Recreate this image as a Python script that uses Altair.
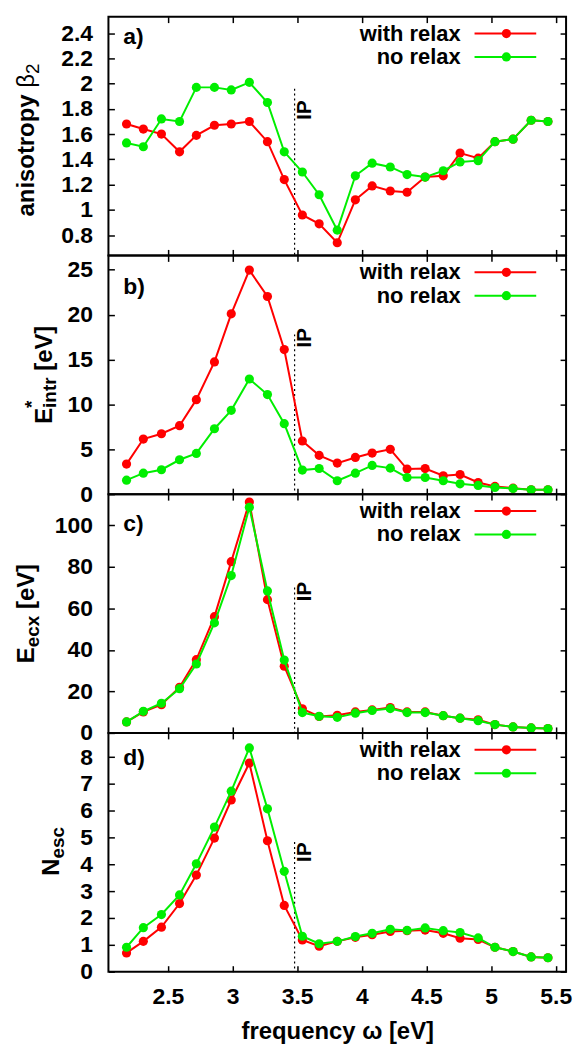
import altair as alt
import pandas as pd

# ---------------- data ----------------
freq = [2.18, 2.31, 2.45, 2.59, 2.72, 2.86, 2.99, 3.13, 3.27, 3.40, 3.54, 3.67, 3.81,
        3.95, 4.08, 4.22, 4.35, 4.49, 4.63, 4.76, 4.90, 5.03, 5.17, 5.31, 5.44]

beta_relax = [1.68, 1.64, 1.60, 1.46, 1.59, 1.67, 1.68, 1.70, 1.54, 1.24, 0.96, 0.89, 0.74,
              1.08, 1.19, 1.15, 1.14, 1.26, 1.27, 1.45, 1.41, 1.54, 1.56, 1.71, 1.70]
beta_norelax = [1.53, 1.50, 1.72, 1.70, 1.97, 1.97, 1.95, 2.01, 1.85, 1.46, 1.30, 1.12, 0.84,
                1.27, 1.37, 1.34, 1.28, 1.26, 1.31, 1.38, 1.39, 1.54, 1.56, 1.71, 1.70]

eint_relax = [3.35, 6.14, 6.73, 7.63, 10.53, 14.73, 20.09, 24.96, 22.02, 16.11, 5.92, 4.32, 3.46,
              4.09, 4.58, 4.99, 2.79, 2.85, 2.05, 2.19, 1.30, 0.86, 0.67, 0.48, 0.48]
eint_norelax = [1.56, 2.34, 2.72, 3.83, 4.54, 7.29, 9.34, 12.83, 11.09, 7.85, 2.68, 2.86, 1.49,
                2.34, 3.20, 2.90, 1.86, 1.86, 1.49, 1.15, 0.97, 0.74, 0.63, 0.48, 0.48]

eecx_relax = [5.3, 10.1, 13.6, 22.0, 35.3, 56.0, 82.5, 111.2, 64.2, 32.1, 11.6, 7.9, 8.5,
              10.1, 11.1, 12.2, 10.1, 10.1, 8.3, 7.1, 6.3, 4.0, 2.9, 2.4, 2.1]
eecx_norelax = [5.3, 10.4, 14.3, 21.3, 33.2, 53.0, 75.8, 108.7, 68.4, 35.1, 9.8, 8.0, 7.5,
                9.5, 10.8, 11.7, 9.8, 9.8, 8.3, 7.1, 5.9, 4.0, 2.9, 2.4, 2.1]

nesc_relax = [0.70, 1.13, 1.66, 2.54, 3.60, 4.98, 6.40, 7.78, 4.88, 2.47, 1.18, 0.95, 1.13,
              1.28, 1.38, 1.50, 1.53, 1.55, 1.43, 1.25, 1.20, 0.91, 0.75, 0.55, 0.52]
nesc_norelax = [0.91, 1.64, 2.13, 2.86, 4.02, 5.39, 6.73, 8.34, 6.07, 3.74, 1.32, 1.04, 1.13,
                1.31, 1.43, 1.58, 1.54, 1.63, 1.53, 1.46, 1.26, 0.91, 0.75, 0.55, 0.52]

x_ticks = [2.5, 3.0, 3.5, 4.0, 4.5, 5.0, 5.5]
beta_ticks = [0.8, 1.0, 1.2, 1.4, 1.6, 1.8, 2.0, 2.2, 2.4]
eint_ticks = [0, 5, 10, 15, 20, 25]
eecx_ticks = [0, 20, 40, 60, 80, 100]
nesc_ticks = [0, 1, 2, 3, 4, 5, 6, 7, 8]

ip_freq = 3.48
ip_tops = [1.96, 17.8, 70.0, 4.83]

series_names = ["with relax", "no relax"]
panel_labels = ["a)", "b)", "c)", "d)"]

# ---------------- style ----------------
W, H = 460, 240
XDOM = [2.04, 5.58]
FONT = "Liberation Sans"
RED = "#ff0000"
GREEN = "#00ee00"
TICK = 6
FS = 23
LFS = 22
TFS = 24

BOLD_W = {'a': .556, 'b': .611, 'c': .556, 'd': .611, 'e': .556, 'f': .333, 'g': .611,
          'h': .611, 'i': .278, 'j': .278, 'k': .556, 'l': .278, 'm': .889, 'n': .611,
          'o': .611, 'p': .611, 'q': .611, 'r': .389, 's': .556, 't': .333, 'u': .611,
          'v': .556, 'w': .778, 'x': .556, 'y': .556, 'z': .5, ' ': .278, 'E': .667,
          'N': .722, 'V': .667, '[': .333, ']': .333, '*': .389, '2': .556}
NORM_W = {'β': .573, '2': .556, ' ': .278}


def text_width(t, size, weight):
    table = BOLD_W if weight == 'bold' else NORM_W
    return sum(table.get(ch, .556) for ch in t) * size


def one_row():
    return alt.Data(values=[{"k": 1}])


def y_title(pieces, base_x, center_y):
    total = sum(text_width(t, s, w) for t, s, w, sh, adv in pieces if adv)
    y = center_y + total / 2.0
    layers = []
    for t, s, w, sh, adv in pieces:
        stripped = t.lstrip(' ')
        lead = text_width(t[:len(t) - len(stripped)], s, w)
        y -= lead
        layers.append(
            alt.Chart(one_row()).mark_text(
                text=stripped, angle=270, align='left', baseline='alphabetic',
                fontSize=s, fontWeight=w, font=FONT, color='black'
            ).encode(x=alt.value(base_x + sh), y=alt.value(y))
        )
        if adv:
            y -= text_width(stripped, s, w)
        else:
            y += lead
    return layers


def ax(orient, values, labels, title=None, label_padding=0, title_padding=0):
    kw = dict(orient=orient, values=values, offset=-TICK, tickSize=TICK, domain=False,
              grid=False, labels=labels, format='~f', title=title)
    if labels:
        kw['labelPadding'] = label_padding
    if title:
        kw['titlePadding'] = title_padding
    return alt.Axis(**kw)


def panel(relax, norelax, ydom, yticks, label, label_y, ip_top, ip_y, title_pieces,
          title_x, title_cy, last):
    df = pd.DataFrame({'f': freq, 'relax': relax, 'norelax': norelax})
    xs = alt.Scale(domain=XDOM, nice=False, zero=False)
    ys = alt.Scale(domain=ydom, nice=False, zero=False)

    bottom = ax('bottom', x_ticks, last, 'frequency ω [eV]' if last else None,
                label_padding=14, title_padding=11)
    top = ax('top', x_ticks, False)
    left = ax('left', yticks, True, None, label_padding=16)
    right = ax('right', yticks, False)

    base = alt.Chart(df)
    red_line = base.mark_line(color=RED, strokeWidth=2).encode(
        x=alt.X('f:Q', scale=xs, axis=bottom), y=alt.Y('relax:Q', scale=ys, axis=left))
    red_pts = base.mark_circle(color=RED, size=85, opacity=1).encode(
        x=alt.X('f:Q', scale=xs, axis=top), y=alt.Y('relax:Q', scale=ys, axis=right))
    green_line = base.mark_line(color=GREEN, strokeWidth=2).encode(
        x=alt.X('f:Q', scale=xs, axis=None), y=alt.Y('norelax:Q', scale=ys, axis=None))
    green_pts = base.mark_circle(color=GREEN, size=85, opacity=1).encode(
        x=alt.X('f:Q', scale=xs, axis=None), y=alt.Y('norelax:Q', scale=ys, axis=None))

    ipdf = pd.DataFrame({'f': [ip_freq], 'top': [ip_top], 'bot': [ydom[0]]})
    ip_rule = alt.Chart(ipdf).mark_rule(color='black', strokeWidth=1.2, strokeDash=[2, 3]).encode(
        x=alt.X('f:Q', scale=xs, axis=None), y=alt.Y('top:Q', scale=ys, axis=None), y2='bot:Q')
    ip_text = alt.Chart(ipdf).mark_text(
        text='IP', angle=270, align='center', baseline='middle', dy=10,
        fontSize=21, fontWeight='bold', font=FONT, color='black'
    ).encode(x=alt.X('f:Q', scale=xs, axis=None), y=alt.value(ip_y))

    lab = alt.Chart(one_row()).mark_text(
        text=label, align='left', baseline='middle', fontSize=FS, fontWeight='bold',
        font=FONT, color='black').encode(x=alt.value(15), y=alt.value(label_y))

    legend = []
    for name, col, ly in [(series_names[0], RED, 17), (series_names[1], GREEN, 40.5)]:
        legend.append(alt.Chart(one_row()).mark_text(
            text=name, align='right', baseline='middle', fontSize=LFS, fontWeight='bold',
            font=FONT, color='black').encode(x=alt.value(354), y=alt.value(ly)))
        legend.append(alt.Chart(one_row()).mark_rule(color=col, strokeWidth=2).encode(
            x=alt.value(368), x2=alt.value(430), y=alt.value(ly)))
        legend.append(alt.Chart(one_row()).mark_circle(color=col, size=85, opacity=1).encode(
            x=alt.value(400), y=alt.value(ly)))

    titles = y_title(title_pieces, title_x, title_cy)

    layers = [ip_rule, red_line, red_pts, green_line, green_pts, ip_text, lab] + legend + titles
    return alt.layer(*layers).resolve_axis(x='independent', y='independent').properties(
        width=W, height=H)


pa = panel(beta_relax, beta_norelax, [0.64, 2.53], beta_ticks, panel_labels[0], 21,
           ip_tops[0], 94,
           [('anisotropy ', TFS, 'bold', 0, True), ('β', TFS, 'normal', 0, True),
            ('2', 19, 'normal', 5, True)], -75, 124, False)
pb = panel(eint_relax, eint_norelax, [0, 26.6], eint_ticks, panel_labels[1], 32,
           ip_tops[1], 83,
           [('E', TFS, 'bold', 0, True), ('*', 19, 'bold', -14, False),
            ('intr', 19, 'bold', 4, True), (' [eV]', TFS, 'bold', 0, True)], -57, 120, False)
pc = panel(eecx_relax, eecx_norelax, [0, 115], eecx_ticks, panel_labels[2], 30,
           ip_tops[2], 98,
           [('E', TFS, 'bold', 0, True), ('ecx', 19, 'bold', 5, True),
            (' [eV]', TFS, 'bold', 0, True)], -75, 120, False)
pd_ = panel(nesc_relax, nesc_norelax, [0, 8.9], nesc_ticks, panel_labels[3], 25,
            ip_tops[3], 120,
            [('N', TFS, 'bold', 0, True), ('esc', 19, 'bold', 5, True)], -50, 119, True)

chart = alt.vconcat(pa, pb, pc, pd_, spacing=0, bounds='flush').properties(
    padding={'left': 13, 'top': 12, 'right': 6, 'bottom': 2}
).configure_view(
    stroke='black', strokeWidth=2
).configure_axis(
    labelFont=FONT, labelFontSize=FS, labelFontWeight='bold', labelColor='black',
    titleFont=FONT, titleFontSize=TFS, titleFontWeight='bold', titleColor='black',
    tickColor='black', tickWidth=1.5
)

chart.save("out.html", embed_options={"renderer": "svg", "actions": False})
